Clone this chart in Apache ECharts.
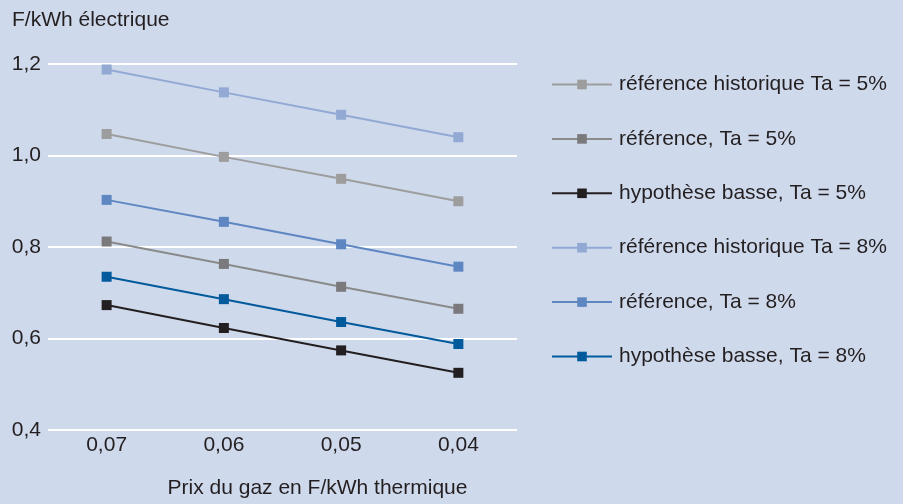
<!DOCTYPE html>
<html>
<head>
<meta charset="utf-8">
<script src="https://cdn.jsdelivr.net/npm/echarts@6/dist/echarts.min.js"></script>
<style>
  html, body { margin: 0; padding: 0; background: #cfd9ec; }
  #main { width: 903px; height: 504px; }
</style>
</head>
<body>
<div id="main"></div>
<script>
// prix du gaz (axe x) et valeurs
var categories = ['0,07', '0,06', '0,05', '0,04'];
var refHist5 = [1.047, 0.997, 0.949, 0.900];
var ref5 = [0.812, 0.763, 0.713, 0.665];
var basse5 = [0.673, 0.623, 0.574, 0.525];
var refHist8 = [1.188, 1.138, 1.089, 1.040];
var ref8 = [0.903, 0.855, 0.806, 0.757];
var basse8 = [0.735, 0.686, 0.636, 0.588];
var yTicks = [0.4, 0.6, 0.8, 1.0, 1.2];

var font = '"Liberation Sans", Arial, sans-serif';
var txt = '#231f20';
var fs = 21;

function serie(name, data, color, markColor) {
  return {
    name: name,
    type: 'line',
    data: data,
    symbol: 'rect',
    symbolSize: 10,
    showAllSymbol: true,
    lineStyle: { color: color, width: 2 },
    itemStyle: { color: markColor || color, borderWidth: 0 },
    emphasis: { disabled: true }
  };
}

var myChart = echarts.init(document.getElementById('main'));
var option = {
  backgroundColor: '#cfd9ec',
  animation: false,
  textStyle: { fontFamily: font },
  title: {
    text: 'F/kWh électrique',
    left: 7, top: 5,
    textStyle: { fontFamily: font, fontSize: fs, fontWeight: 'normal', color: txt }
  },
  grid: { left: 48, right: 386, top: 64, bottom: 74, containLabel: false },
  legend: {
    orient: 'vertical',
    left: 546, top: 69,
    itemWidth: 60, itemHeight: 12,
    itemGap: 33.4,
    textStyle: { fontFamily: font, fontSize: fs, color: txt, padding: [0, 0, 0, 2] },
    data: ['référence historique Ta = 5%', 'référence, Ta = 5%', 'hypothèse basse, Ta = 5%',
           'référence historique Ta = 8%', 'référence, Ta = 8%', 'hypothèse basse, Ta = 8%']
  },
  xAxis: {
    type: 'category',
    data: categories,
    boundaryGap: true,
    name: 'Prix du gaz en F/kWh thermique',
    nameLocation: 'middle',
    nameGap: 48,
    nameTextStyle: { fontFamily: font, fontSize: fs, color: txt, padding: [0, 0, 0, 70] },
    axisLine: { show: false },
    axisTick: { show: false },
    axisLabel: { fontFamily: font, fontSize: fs, color: txt, margin: 5 }
  },
  yAxis: {
    type: 'value',
    min: yTicks[0], max: yTicks[yTicks.length - 1], interval: 0.2,
    axisLine: { show: false },
    axisTick: { show: false },
    splitLine: { lineStyle: { color: '#ffffff', width: 2 } },
    axisLabel: {
      fontFamily: font, fontSize: fs, color: txt, margin: 7,
      formatter: function (v) { return v.toFixed(1).replace('.', ','); }
    }
  },
  series: [
    serie('référence historique Ta = 5%', refHist5, '#9d9d9d'),
    serie('référence, Ta = 5%', ref5, '#8a8a8a', '#7a7a7c'),
    serie('hypothèse basse, Ta = 5%', basse5, '#231f20'),
    serie('référence historique Ta = 8%', refHist8, '#91a9d3'),
    serie('référence, Ta = 8%', ref8, '#5e87c2'),
    serie('hypothèse basse, Ta = 8%', basse8, '#005a9c')
  ]
};
myChart.setOption(option);
</script>
</body>
</html>
